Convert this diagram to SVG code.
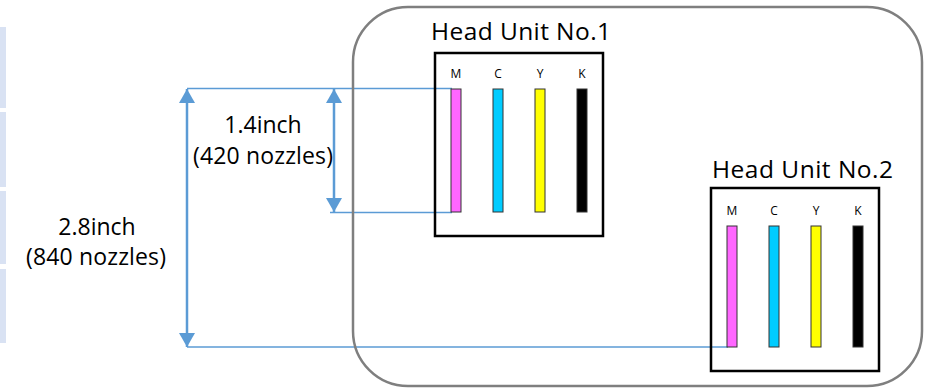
<svg xmlns="http://www.w3.org/2000/svg" width="933" height="389" viewBox="0 0 933 389">
<style>
.lbl{font-family:"Open Sans","Liberation Sans",sans-serif;font-size:23px;fill:#000}
.ttl{font-family:"Open Sans","Liberation Sans",sans-serif;font-size:24.5px;fill:#000}
.ch{font-family:"Open Sans","Liberation Sans",sans-serif;font-size:12px;fill:#000;text-anchor:middle}
.thin{stroke:#5b9bd5;stroke-width:1.5;fill:none}
.dim{stroke:#5b9bd5;stroke-width:2.5;fill:none;marker-start:url(#ah);marker-end:url(#ah)}
.box{fill:none;stroke:#000;stroke-width:2.5}
.bar{stroke:#333;stroke-width:1}
.cell{fill:#d9e2f3}
</style>
<defs>
<marker id="ah" viewBox="0 0 14 16" refX="14" refY="8" markerWidth="14" markerHeight="16" markerUnits="userSpaceOnUse" orient="auto-start-reverse">
<path d="M0,0 L14,8 L0,16 z" fill="#5b9bd5"/>
</marker>
</defs>
<g id="strip">
<rect class="cell" x="0" y="27" width="6" height="81"/>
<rect class="cell" x="0" y="112" width="6" height="75"/>
<rect class="cell" x="0" y="191" width="6" height="73"/>
<rect class="cell" x="0" y="269" width="6" height="74"/>
</g>
<g id="connectors">
<line class="thin" x1="187" y1="88.5" x2="452" y2="88.5"/>
<line class="thin" x1="330" y1="212.5" x2="452" y2="212.5"/>
<line class="thin" x1="187" y1="347" x2="728" y2="347"/>
<line class="dim" x1="187" y1="89" x2="187" y2="347"/>
<line class="dim" x1="334" y1="89" x2="334" y2="212"/>
</g>
<g id="labels">
<text class="lbl" x="263" y="133" text-anchor="middle">1.4inch</text>
<text class="lbl" x="193" y="164" textLength="140">(420 nozzles)</text>
<text class="lbl" x="97" y="235" text-anchor="middle">2.8inch</text>
<text class="lbl" x="26" y="265" textLength="140">(840 nozzles)</text>
</g>
<g id="container">
<rect x="353" y="7" width="569" height="379" rx="55" ry="55" fill="none" stroke="#7f7f7f" stroke-width="2.5"/>
</g>
<g id="head1">
<text class="ttl" x="431" y="40" textLength="180">Head Unit No.1</text>
<rect class="box" x="435" y="53" width="168" height="183"/>
<text class="ch" x="456" y="78">M</text>
<text class="ch" x="498" y="78">C</text>
<text class="ch" x="540" y="78">Y</text>
<text class="ch" x="582" y="78">K</text>
<rect class="bar" x="451" y="89" width="10" height="123" fill="#ff66ff"/>
<rect class="bar" x="493" y="89" width="10" height="123" fill="#00ccff"/>
<rect class="bar" x="535" y="89" width="10" height="123" fill="#ffff00"/>
<rect class="bar" x="577" y="89" width="10" height="123" fill="#000"/>
</g>
<g id="head2">
<text class="ttl" x="712" y="178" textLength="181">Head Unit No.2</text>
<rect class="box" x="711" y="188" width="168" height="183"/>
<text class="ch" x="732" y="215">M</text>
<text class="ch" x="774" y="215">C</text>
<text class="ch" x="816" y="215">Y</text>
<text class="ch" x="858" y="215">K</text>
<rect class="bar" x="727" y="226" width="10" height="121" fill="#ff66ff"/>
<rect class="bar" x="769" y="226" width="10" height="121" fill="#00ccff"/>
<rect class="bar" x="811" y="226" width="10" height="121" fill="#ffff00"/>
<rect class="bar" x="853" y="226" width="10" height="121" fill="#000"/>
</g>
</svg>
